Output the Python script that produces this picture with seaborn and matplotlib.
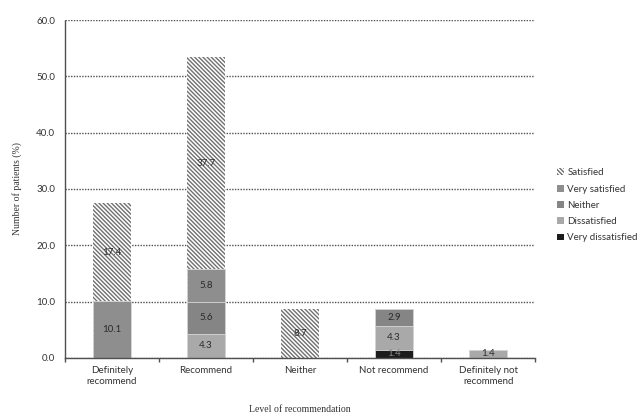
import matplotlib
matplotlib.use("Agg")
import matplotlib.pyplot as plt
import seaborn as sns
import pandas as pd
import numpy as np
from matplotlib.patches import Patch

# Level of recommendation vs. satisfaction (percent of patients)
categories = ["Definitely\nrecommend", "Recommend", "Neither", "Not recommend", "Definitely not\nrecommend"]
very_dissatisfied = [0.0, 0.0, 0.0, 1.4, 0.0]
dissatisfied = [0.0, 4.3, 0.0, 4.3, 1.4]
neither = [0.0, 5.6, 0.0, 2.9, 0.0]
very_satisfied = [10.1, 5.8, 0.0, 0.0, 0.0]
satisfied = [17.4, 37.7, 8.7, 0.0, 0.0]

y_ticks = [0, 10, 20, 30, 40, 50, 60]

# stacking order, bottom to top
series = [
    ("Very dissatisfied", very_dissatisfied, "#1c1c1c", None),
    ("Dissatisfied", dissatisfied, "#a9a9a9", None),
    ("Neither", neither, "#858585", None),
    ("Very satisfied", very_satisfied, "#8e8e8e", None),
    ("Satisfied", satisfied, "#ffffff", "\\\\\\\\\\\\\\\\"),
]

sns.set_theme(style="white")
plt.rcParams["font.family"] = ["Lato", "DejaVu Sans"]
plt.rcParams["hatch.color"] = "#707070"
plt.rcParams["hatch.linewidth"] = 1.0

fig = plt.figure(figsize=(6.41, 4.19), dpi=100)
ax = fig.add_axes([0.101, 0.146, 0.734, 0.806])

df = pd.DataFrame({name: vals for name, vals, _, _ in series}, index=categories)
cum = df.cumsum(axis=1)

# draw cumulative totals from the top series down so each segment shows
for name, vals, color, hatch in reversed(series):
    d = pd.DataFrame({"category": categories, "value": cum[name].values})
    sns.barplot(data=d, x="category", y="value", color=color, width=0.41,
                saturation=1, ax=ax, edgecolor="#707070" if hatch else "#d8d8d8",
                linewidth=0 if hatch else 0.6, hatch=hatch)

# segment value labels
for i, cat in enumerate(categories):
    base = 0.0
    for name, vals, color, hatch in series:
        v = vals[i]
        if v > 0:
            tc = "#8a8a8a" if name == "Very dissatisfied" else "#2a2a2a"
            ax.text(i, base + v / 2, f"{v:.1f}", ha="center", va="center",
                    fontsize=7, color=tc)
        base += v

ax.set_ylim(0, 60)
ax.set_xlim(-0.5, len(categories) - 0.5)
ax.set_yticks(y_ticks)
ax.set_yticklabels([f"{t:.1f}" for t in y_ticks])
ax.yaxis.grid(True, linestyle=(0, (1, 1)), color="#505050", linewidth=1.0)
ax.set_axisbelow(True)

for s in ["top", "right"]:
    ax.spines[s].set_visible(False)
for s in ["left", "bottom"]:
    ax.spines[s].set_color("#505050")
    ax.spines[s].set_linestyle((0, (1, 1)))
    ax.spines[s].set_linewidth(1.0)

ax.tick_params(axis="y", length=3, color="#505050", labelsize=7, labelcolor="#333333", pad=4)
ax.tick_params(axis="x", length=0, labelsize=7, labelcolor="#333333", pad=6)
ax.set_xticks(np.arange(len(categories)))
ax.set_xticklabels(categories, linespacing=1.2)
# small separator ticks between categories
ax.set_xticks(np.arange(-0.5, len(categories), 1.0), minor=True)
ax.tick_params(axis="x", which="minor", length=3, color="#505050", bottom=True)

ax.set_xlabel("Level of recommendation", fontsize=7, family=["Liberation Serif"],
              color="#333333", labelpad=14)
ax.set_ylabel("Number of patients (%)", fontsize=7, family=["Liberation Serif"],
              color="#333333", labelpad=10)

handles = [Patch(facecolor=c, edgecolor="#707070" if h else c, hatch=h, label=n,
                 linewidth=0)
           for n, _, c, h in reversed(series)]
fig.legend(handles=handles, loc="center left", bbox_to_anchor=(0.855, 0.51),
           frameon=False, fontsize=7, handlelength=0.7, handleheight=0.7,
           handletextpad=0.4, labelspacing=0.75, labelcolor="#333333")

fig.savefig("out.png", dpi=100)
